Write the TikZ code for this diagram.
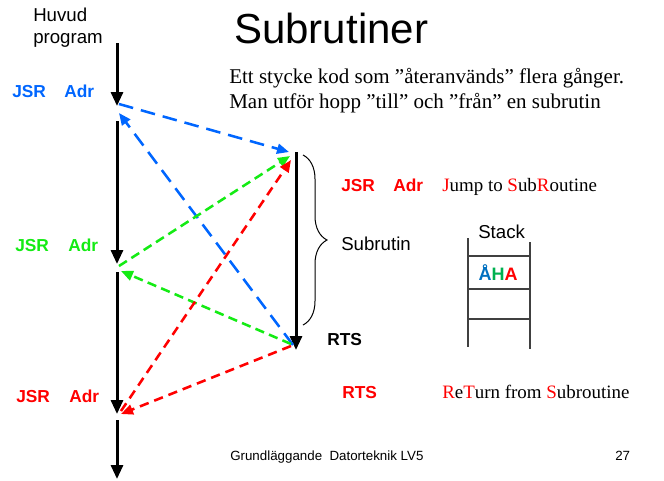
\documentclass[tikz,border=0pt]{standalone}
\usepackage{fontspec}
\setmainfont{Liberation Serif}
\newfontfamily\arialfont{Liberation Sans}
\usetikzlibrary{arrows.meta}
\usetikzlibrary{decorations.pathreplacing}
\definecolor{jblue}{RGB}{0,102,255}
\definecolor{jgreen}{RGB}{20,235,20}
\definecolor{jred}{RGB}{255,0,0}
\definecolor{ablue}{RGB}{0,112,192}
\definecolor{agreen}{RGB}{0,176,80}

\begin{document}
\begin{tikzpicture}[x=0.75pt,y=-0.75pt,
        flow/.style={line width=2.25pt,-{Triangle[length=10.5pt,width=9pt]}},
        jump/.style={line width=1.9pt,-{Triangle[length=9pt,width=7.5pt]}},
        lbl/.style={font=\arialfont\fontsize{14}{16}\selectfont,inner sep=0pt,anchor=base west},
        op/.style={font=\arialfont\bfseries\fontsize{13}{15}\selectfont,inner sep=0pt,anchor=base west},
        prose/.style={font=\fontsize{14.2}{17}\selectfont,inner sep=0pt,anchor=base west}]
        \useasboundingbox (0,0) rectangle (664,480);
        % main program
        \coordinate (M0) at (117,43);
        \coordinate (M1) at (117,106);
        \coordinate (M2) at (117,121);
        \coordinate (M3) at (117,264);
        \coordinate (M4) at (117,272);
        \coordinate (M5) at (117,414);
        \coordinate (M6) at (117,420);
        \coordinate (M7) at (117,479);
        \draw[flow] (M0)--(M1);
        \draw[flow] (M2)--(M3);
        \draw[flow] (M4)--(M5);
        \draw[flow] (M6)--(M7);
        % subroutine
        \coordinate (S0) at (296,152);
        \coordinate (S1) at (296,350);
        \draw[flow] (S0)--(S1);
        \draw[line width=0.75pt,decorate,decoration={brace,amplitude=18pt}] (303,155)--(303,325);
        % jumps and returns
        \coordinate (P1) at (119,104);
        \coordinate (Q1) at (289,152);
        \coordinate (P2) at (119,266);
        \coordinate (Q2) at (290,156);
        \coordinate (P3) at (121,411);
        \coordinate (Q3) at (291,160);
        \draw[jump,jblue,dash pattern=on 11pt off 6pt] (P1)--(Q1);
        \draw[jump,jblue,dash pattern=on 11pt off 6pt] (293,345)--(119,113);
        \draw[jump,jgreen,dash pattern=on 7pt off 4pt] (P2)--(Q2);
        \draw[jump,jgreen,dash pattern=on 7pt off 4pt] (291,344)--(121,271);
        \draw[jump,jred,dash pattern=on 7pt off 4.5pt] (291,346)--(121,414);
        \draw[jump,jred,dash pattern=on 7pt off 4.5pt] (P3)--(Q3);
        % labels on the left
        \node[lbl] (huvud) at (33,21) {Huvud};
        \node[lbl] (prog) at (33,43) {program};
        \node[op,jblue] (jsr1) at (12,97) {JSR};
        \node[op,jblue] (adr1) at (64,97) {Adr};
        \node[op,jgreen] (jsr2) at (15,251) {JSR};
        \node[op,jgreen] (adr2) at (68,251) {Adr};
        \node[op,jred] (jsr3) at (16,402) {JSR};
        \node[op,jred] (adr3) at (69,402) {Adr};
        % title and text
        \node[anchor=base west,inner sep=0pt,font=\arialfont\fontsize{31.5}{36}\selectfont] (title) at (234,43) {Subrutiner};
        \node[prose,font=\fontsize{15.75}{19}\selectfont] (line1) at (229,83) {Ett stycke kod som ”återanvänds” flera gånger.};
        \node[prose,font=\fontsize{15.75}{19}\selectfont] (line2) at (229,108) {Man utför hopp ”till” och ”från” en subrutin};
        \node[op,jred] (jsr4) at (341,191) {JSR};
        \node[op,jred] (adr4) at (393,191) {Adr};
        \node[prose] (jmp) at (442,191) {\textcolor{jred}{J}ump to \textcolor{jred}{S}ub\textcolor{jred}{R}outine};
        \node[lbl] (subr) at (341,250) {Subrutin};
        \node[op] (rts1) at (327,345) {RTS};
        \node[op,jred] (rts2) at (342,398) {RTS};
        \node[prose] (ret) at (442,398) {\textcolor{jred}{R}e\textcolor{jred}{T}urn from \textcolor{jred}{S}ubroutine};
        % stack
        \node[lbl] (stack) at (478,238) {Stack};
        \draw[line width=1.1pt,black!75] (468,238)--(468,347);
        \draw[line width=1.1pt,black!75] (530,242)--(530,349);
        \foreach \y in {256,289,319}
            \draw[line width=1.1pt,black!75] (468,\y)--(530,\y);
        \node[op,font=\arialfont\bfseries\fontsize{13.5}{15}\selectfont,anchor=base] (aha) at (498,280) {\textcolor{ablue}{Å}\textcolor{agreen}{H}\textcolor{jred}{A}};
        % footer
        \node[anchor=base west,inner sep=0pt,font=\arialfont\fontsize{10}{12}\selectfont] (foot) at (230,460) {Grundläggande\ \ Datorteknik LV5};
        \node[anchor=base west,inner sep=0pt,font=\arialfont\fontsize{10}{12}\selectfont] (page) at (615,460) {27};
\end{tikzpicture}
\end{document}
